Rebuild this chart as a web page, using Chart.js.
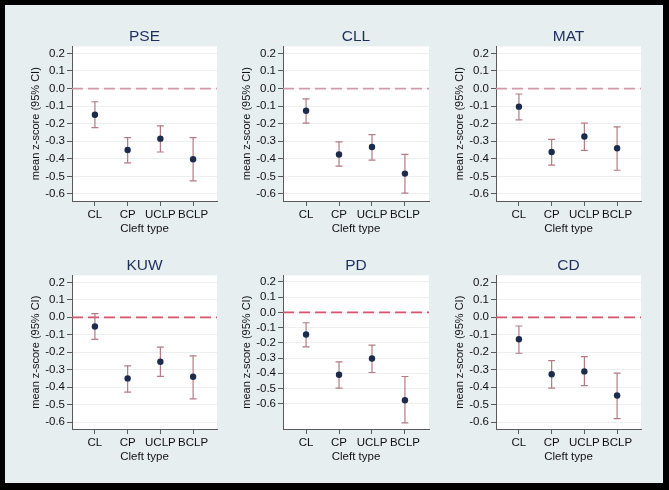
<!DOCTYPE html>
<html><head><meta charset="utf-8">
<script src="https://cdn.jsdelivr.net/npm/chart.js@4"></script>
<style>
html,body{margin:0;padding:0;background:#000;width:669px;height:490px;overflow:hidden}
#bg{position:absolute;left:5px;top:5px;width:658px;height:478px;background:#e7eef0}
canvas{position:absolute}
</style></head><body><div id="bg"></div>
<script>
const categories = ['CL','CP','UCLP','BCLP'];
const yTickValues = [0.2,0.1,0,-0.1,-0.2,-0.3,-0.4,-0.5,-0.6];
const panelTitles = ['PSE','CLL','MAT','KUW','PD','CD'];
const xAxisTitle = 'Cleft type';
const yAxisTitle = 'mean z-score (95% CI)';

const pseMean  = [-0.149,-0.350,-0.285,-0.402];
const pseLower = [-0.222,-0.423,-0.361,-0.526];
const pseUpper = [-0.075,-0.279,-0.212,-0.279];

const cllMean  = [-0.126,-0.375,-0.333,-0.484];
const cllLower = [-0.197,-0.442,-0.407,-0.595];
const cllUpper = [-0.059,-0.304,-0.262,-0.375];

const matMean  = [-0.103,-0.361,-0.273,-0.340];
const matLower = [-0.178,-0.436,-0.352,-0.465];
const matUpper = [-0.031,-0.289,-0.197,-0.218];

const kuwMean  = [-0.053,-0.350,-0.255,-0.341];
const kuwLower = [-0.126,-0.429,-0.339,-0.467];
const kuwUpper = [0.021,-0.278,-0.171,-0.221];

const pdMean  = [-0.145,-0.410,-0.303,-0.577];
const pdLower = [-0.226,-0.498,-0.395,-0.726];
const pdUpper = [-0.068,-0.325,-0.215,-0.421];

const cdMean  = [-0.126,-0.326,-0.310,-0.448];
const cdLower = [-0.206,-0.406,-0.392,-0.581];
const cdUpper = [-0.050,-0.248,-0.225,-0.320];

const series = [
  {mean:pseMean, lo:pseLower, hi:pseUpper},
  {mean:cllMean, lo:cllLower, hi:cllUpper},
  {mean:matMean, lo:matLower, hi:matUpper},
  {mean:kuwMean, lo:kuwLower, hi:kuwUpper},
  {mean:pdMean,  lo:pdLower,  hi:pdUpper},
  {mean:cdMean,  lo:cdLower,  hi:cdUpper}
];

// layout (plot area boxes, axis ranges, styles)
const panels = [
  {L:72, R:217, T:47,  B:201, yMin:-0.64, yMax:0.24, dash:'#d09aa8'},
  {L:283,R:429, T:47,  B:201, yMin:-0.64, yMax:0.24, dash:'#d09aa8'},
  {L:496,R:641, T:47,  B:201, yMin:-0.64, yMax:0.24, dash:'#d09aa8'},
  {L:72, R:217, T:276, B:429, yMin:-0.64, yMax:0.24, dash:'#d2566e'},
  {L:283,R:429, T:276, B:429, yMin:-0.766,yMax:0.243,dash:'#d2566e'},
  {L:496,R:641, T:276, B:429, yMin:-0.64, yMax:0.24, dash:'#d2566e'}
];
const X_MIN = 0.3, X_MAX = 4.73;
const FONT = 'Liberation Sans, Arial, Helvetica, sans-serif';
const errColor = '#b37b84';
const dotColor = '#1c2a4c';
const axisColor = '#5a5a5a';

Chart.defaults.font.family = FONT;

const plotBg = {
  id:'plotBg',
  beforeDraw(chart){
    const a = chart.chartArea, ctx = chart.ctx;
    ctx.save(); ctx.fillStyle = '#ffffff';
    ctx.fillRect(a.left, a.top, a.right-a.left, a.bottom-a.top);
    ctx.restore();
  }
};

panels.forEach((P,i)=>{
  const S = series[i];
  const canvas = document.createElement('canvas');
  const left = P.L - 43, top = P.T - 20;
  const w = P.R - left + 6, h = P.B - top + 35 + 2;
  canvas.width = w; canvas.height = h;
  canvas.style.left = left+'px'; canvas.style.top = top+'px';
  canvas.style.width = w+'px'; canvas.style.height = h+'px';
  document.body.appendChild(canvas);

  const errLine = [];
  const caps = [];
  categories.forEach((c,k)=>{
    errLine.push({x:k+1,y:S.lo[k]},{x:k+1,y:S.hi[k]},{x:k+1.5,y:null});
    caps.push({x:k+1,y:S.lo[k]},{x:k+1,y:S.hi[k]});
  });
  const means = S.mean.map((v,k)=>({x:k+1,y:v}));

  new Chart(canvas,{
    type:'scatter',
    data:{datasets:[
      {type:'line', data:[{x:X_MIN,y:0},{x:X_MAX,y:0}], borderColor:P.dash, borderWidth:1.8, borderDash:[11,5], pointRadius:0, order:4},
      {type:'line', data:errLine, borderColor:errColor, borderWidth:1.2, pointRadius:0, spanGaps:false, order:3},
      {data:caps, pointStyle:'line', pointRadius:3.5, borderColor:errColor, borderWidth:1.2, order:2},
      {data:means, pointStyle:'circle', pointRadius:3.2, backgroundColor:dotColor, borderColor:dotColor, borderWidth:0, order:1}
    ]},
    options:{
      responsive:false, animation:false, devicePixelRatio:1,
      layout:{padding:{left:0,top:0,right:6,bottom:2}},
      plugins:{
        legend:{display:false}, tooltip:{enabled:false},
        title:{display:true, text:panelTitles[i], fullSize:false, color:'#1e2f5c',
               font:{size:15.5, weight:'normal'}, padding:{top:0,bottom:0.8}}
      },
      scales:{
        x:{type:'linear', min:X_MIN, max:X_MAX,
           afterBuildTicks:s=>{s.ticks=[1,2,3,4].map(v=>({value:v}));},
           afterFit:s=>{s.height=35;},
           ticks:{callback:v=>categories[Math.round(v)-1], font:{size:11.5}, color:'#111', padding:2, maxRotation:0, autoSkip:false},
           grid:{drawOnChartArea:false, drawTicks:true, tickLength:5, tickColor:axisColor},
           border:{color:axisColor, width:1},
           title:{display:true, text:xAxisTitle, font:{size:11.5}, color:'#111', padding:0}},
        y:{type:'linear', min:P.yMin, max:P.yMax,
           afterBuildTicks:s=>{s.ticks=yTickValues.map(v=>({value:v}));},
           afterFit:s=>{s.width=43;},
           ticks:{callback:v=>Number(v).toFixed(1), font:{size:11.5}, color:'#111', padding:2},
           grid:{color:'#edf0f3', tickColor:axisColor, tickLength:5},
           border:{color:axisColor, width:1},
           title:{display:true, text:yAxisTitle, font:{size:11}, color:'#111', padding:0}}
      }
    },
    plugins:[plotBg]
  });
});
</script>
</body></html>
